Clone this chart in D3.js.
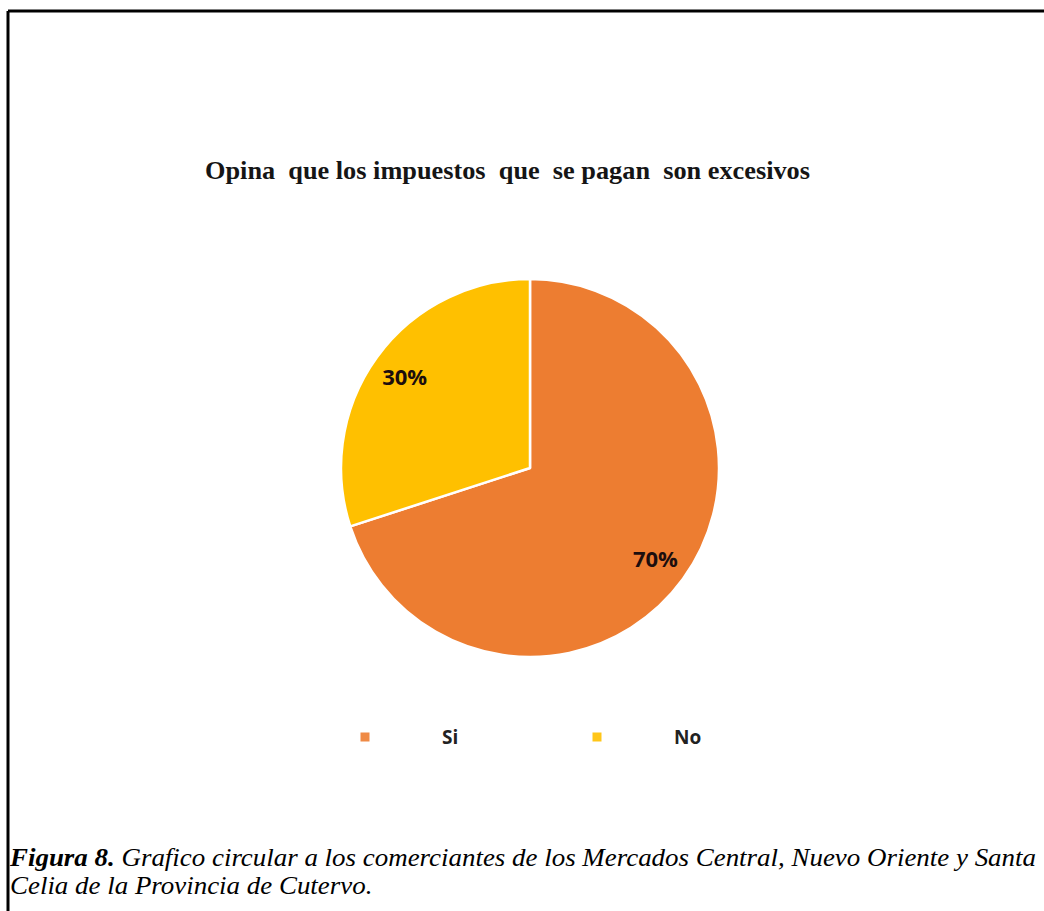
<!DOCTYPE html>
<html>
<head>
<meta charset="utf-8">
<script src="https://cdn.jsdelivr.net/npm/d3@7/dist/d3.min.js"></script>
<style>
  html, body { margin: 0; padding: 0; background: #fff; }
  svg { display: block; }
</style>
</head>
<body>
<svg id="chart" width="1044" height="911"></svg>
<script>
// Survey answers: share of merchants who consider taxes excessive
const categories = ["Si", "No"];
const percentages = [70, 30];
const sliceColors = ["#ED7D31", "#FFC000"];

const chartTitle = "Opina  que los impuestos  que  se pagan  son excesivos";
const captionLead = "Figura 8.";
const captionLine1 = "Grafico circular a los comerciantes de los Mercados Central, Nuevo Oriente y Santa";
const captionLine2 = "Celia de la Provincia de Cutervo.";

const W = 1044, H = 911;
const svg = d3.select("#chart");
const serif = "'Liberation Serif', 'Times New Roman', serif";

// frame lines (top and left edges)
svg.append("line").attr("x1", 8).attr("x2", W).attr("y1", 11).attr("y2", 11)
  .attr("stroke", "#000").attr("stroke-width", 3);
svg.append("line").attr("x1", 8).attr("x2", 8).attr("y1", 11).attr("y2", H)
  .attr("stroke", "#000").attr("stroke-width", 3);

// title, condensed horizontally to its span
svg.append("text")
  .attr("x", 205).attr("y", 179)
  .attr("font-family", serif)
  .attr("font-weight", "bold").attr("font-size", 25)
  .attr("fill", "#151515")
  .style("white-space", "pre")
  .attr("textLength", 605).attr("lengthAdjust", "spacingAndGlyphs")
  .text(chartTitle);

// pie
const cx = 530, cy = 468, R = 189;
const color = d3.scaleOrdinal().domain(categories).range(sliceColors);
const data = categories.map((c, i) => ({ cat: c, value: percentages[i] }));
const pie = d3.pie().sort(null).value(d => d.value);
const arcs = pie(data);
const arc = d3.arc().innerRadius(0).outerRadius(R);
const labelArc = d3.arc().innerRadius(R * 0.82).outerRadius(R * 0.82);

const g = svg.append("g").attr("transform", `translate(${cx},${cy})`);
g.selectAll("path.slice").data(arcs).enter().append("path")
  .attr("class", "slice")
  .attr("d", arc)
  .attr("fill", d => color(d.data.cat))
  .attr("stroke", "#fff").attr("stroke-width", 2.5)
  .attr("stroke-linejoin", "round");

g.selectAll("text.lbl").data(arcs).enter().append("text")
  .attr("class", "lbl")
  .attr("transform", d => `translate(${labelArc.centroid(d)})`)
  .attr("text-anchor", "middle").attr("dy", "0.36em")
  .attr("font-family", "'Open Sans', sans-serif")
  .attr("font-weight", "bold").attr("font-size", 22)
  .attr("fill", "#1c0e0e")
  .text(d => d.data.value + "%");

// legend
const legendX = d3.scalePoint().domain(categories).range([365, 597]);
const leg = svg.append("g").attr("transform", "translate(0,737)");
const items = leg.selectAll("g").data(categories).enter().append("g")
  .attr("transform", d => `translate(${legendX(d)},0)`);
items.append("rect").attr("x", -4.5).attr("y", -4.5).attr("width", 9).attr("height", 9)
  .attr("fill", d => color(d)).attr("opacity", 0.9);
items.append("text").attr("x", 77).attr("dy", "0.35em")
  .attr("font-family", "'Open Sans', sans-serif")
  .attr("font-weight", "bold").attr("font-size", 19)
  .attr("fill", "#222")
  .text(d => d);

// caption: bold lead plus italic text, condensed so line 1 spans the frame
const capX = 10, capW = 1026, capSize = 25;
function capText(str, y, bold) {
  return svg.append("text").attr("x", capX).attr("y", y)
    .attr("font-family", serif).attr("font-size", capSize)
    .attr("font-style", "italic").attr("font-weight", bold ? "bold" : "normal")
    .attr("fill", "#000").text(str);
}
const lead = capText(captionLead, 866, true);
const rest = capText(captionLine1, 866, false);
const line2 = capText(captionLine2, 894, false);
const wLead = lead.node().getComputedTextLength();
const gap = capSize * 0.25;
const wRest = rest.node().getComputedTextLength();
const s = capW / (wLead + gap + wRest);
lead.attr("textLength", wLead * s).attr("lengthAdjust", "spacingAndGlyphs");
rest.attr("x", capX + (wLead + gap) * s)
  .attr("textLength", wRest * s).attr("lengthAdjust", "spacingAndGlyphs");
line2.attr("textLength", line2.node().getComputedTextLength() * s)
  .attr("lengthAdjust", "spacingAndGlyphs");
</script>
</body>
</html>
